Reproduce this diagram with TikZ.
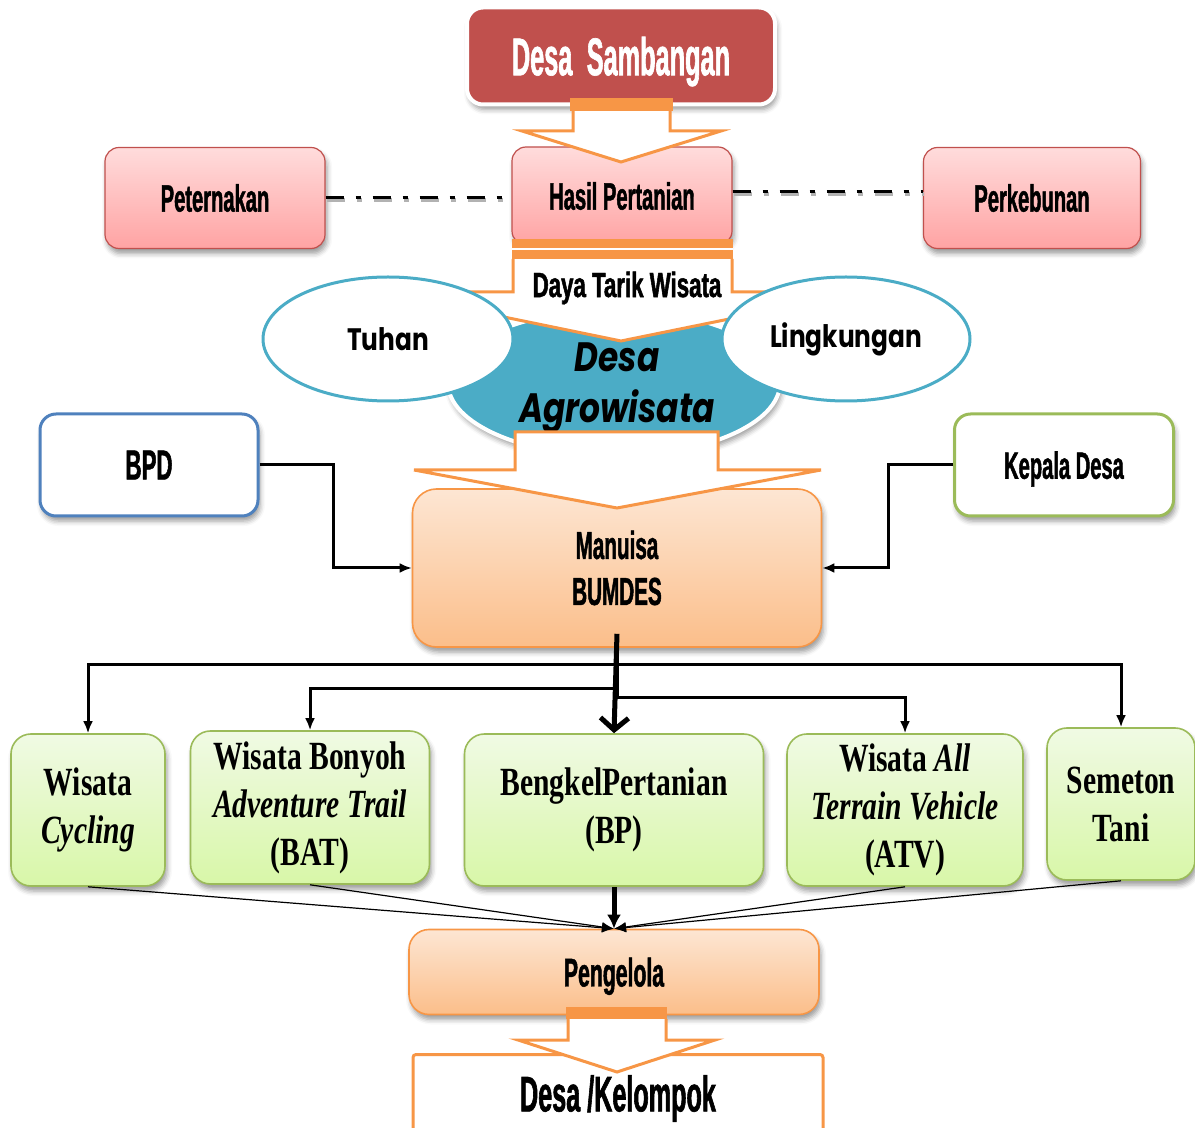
\documentclass[tikz,border=0pt]{standalone}
\usepackage{fontspec}
\usepackage{graphicx}
\usetikzlibrary{shapes.geometric,arrows.meta,shadows.blur,calc}
\newfontfamily\agency[FakeStretch=0.53,BoldFeatures={FakeBold=1.2}]{Liberation Sans}
\newfontfamily\twcen[FakeStretch=0.8]{Poppins}
\newfontfamily\tnr[FakeStretch=0.74]{Liberation Serif}
\definecolor{redbox}{HTML}{C0504D}
\definecolor{orng}{HTML}{F79646}
\definecolor{myteal}{HTML}{4BACC6}
\definecolor{blu}{HTML}{4F81BD}
\definecolor{grn}{HTML}{9BBB59}
\definecolor{pinkT}{HTML}{FFDCDC}
\definecolor{pinkB}{HTML}{FFA3A3}
\definecolor{orT}{HTML}{FDE6D3}
\definecolor{orB}{HTML}{FBBE8A}
\definecolor{grT}{HTML}{F0FAE4}
\definecolor{grB}{HTML}{D8F7A8}
\tikzset{
 shad/.style={blur shadow={shadow xshift=1pt,shadow yshift=-2.5pt,shadow blur radius=2.5pt,shadow opacity=40}},
 pinkbox/.style={rectangle,rounded corners=7pt,draw=redbox,line width=0.6pt,top color=pinkT,bottom color=pinkB,shad,minimum width=110pt,minimum height=50pt,inner sep=0pt,font=\agency\bfseries\fontsize{19}{23}\selectfont},
 orbox/.style={rectangle,rounded corners=10pt,draw=orng,line width=0.8pt,top color=orT,bottom color=orB,shad,inner sep=0pt,align=center,font=\agency\bfseries\fontsize{19.5}{23}\selectfont},
 grbox/.style={rectangle,rounded corners=10pt,draw=grn,line width=0.8pt,top color=grT,bottom color=grB,shad,inner sep=0pt,align=center,font=\tnr\bfseries\fontsize{20}{24}\selectfont},
 wbox/.style={rectangle,rounded corners=8pt,fill=white,line width=1.5pt,shad,minimum width=109pt,minimum height=51pt,inner sep=0pt,font=\agency\bfseries\fontsize{19.5}{23}\selectfont},
 oval/.style={ellipse,draw=myteal,fill=white,line width=1.5pt,minimum width=125pt,minimum height=62pt,inner sep=0pt,font=\twcen\bfseries\fontsize{15.5}{18}\selectfont},
 harrow/.style={draw=orng,fill=white,line width=1.5pt,line join=miter,miter limit=10},
 conn/.style={line width=1.5pt,-{Latex[length=6pt,width=5pt]}},
 thinconn/.style={line width=0.6pt,-{Latex[length=6pt,width=5pt]}},
 dd/.style={line width=1.5pt,dash pattern=on 9pt off 6pt on 2.5pt off 6pt},
 ddshadow/.style={dd,draw=black!30,line width=2.2pt},
}
\begin{document}
\begin{tikzpicture}[x=0.5pt,y=-0.5pt]
\useasboundingbox (0,0) rectangle (1195,1128);
\clip (0,0) rectangle (1195,1128);

% side boxes
\node[wbox,draw=blu] (bpd) at (149,465) {\fontsize{21}{24}\selectfont BPD};
\node[wbox,draw=grn,minimum width=109.5pt,text depth=0pt] (kd) at (1064,465) {\fontsize{19}{23}\selectfont Kepala Desa};

% top
\node[rectangle,rounded corners=8pt,fill=redbox,draw=white,line width=2pt,shad,minimum width=154pt,minimum height=48.5pt,text=white,text depth=0pt,font=\agency\bfseries\fontsize{26.5}{30}\selectfont] (ds) at (621,56) {\scalebox{0.9}[1]{Desa\hspace{8pt}Sambangan}\hspace{12pt}};

\node[pinkbox,minimum height=49pt] (hp) at (622,196) {Hasil Pertanian};
\node[pinkbox,minimum height=50.5pt] (pt) at (215,198) {Peternakan};
\node[pinkbox,minimum width=108.5pt,minimum height=50.5pt] (pk) at (1032,198) {Perkebunan};

\draw[ddshadow] ([xshift=0.5pt,yshift=-1pt]pt.east) -- ([xshift=0.5pt,yshift=-1pt]pt.east -| hp.west);
\draw[ddshadow] ([xshift=0.5pt,yshift=1pt]hp.east) -- ([xshift=0.5pt,yshift=1pt]hp.east -| pk.west);
\draw[dd] (pt.east) -- (pt.east -| hp.west);
\draw[dd] ([yshift=2pt]hp.east) -- ([yshift=2pt]hp.east -| pk.west);

% arrow 1
\path[harrow] (573,111) -- (573,131) -- (522,131) -- (621,162) -- (721,131) -- (670,131) -- (670,111);
\fill[orng] (570,98) rectangle (673,111);

% teal ellipse
\node[ellipse,fill=myteal,draw=white,line width=2pt,shad,minimum width=166pt,minimum height=73pt] (agro) at (614,383) {};

% arrow 2
\path[harrow] (513,259) -- (513,292) -- (382,292) -- (621,341) -- (862,292) -- (732,292) -- (732,259);
\fill[orng] (512,239) rectangle (733,259);
\draw[white,line width=0.8pt] (512,249) -- (733,249);
\node[font=\agency\bfseries\fontsize{17.5}{20}\selectfont] (dtw) at (627,288) {\scalebox{1.2}[1]{Daya Tarik Wisata}};

\node[oval] (tuhan) at (388,339) {Tuhan};
\node[oval,minimum width=124pt] (ling) at (846,339) {Lingkungan};

\node[align=center,font=\twcen\bfseries\itshape\fontsize{20.5}{25.5}\selectfont] (agrotxt) at (617,388) {Desa\\Agrowisata};

% BUMDES
\node[orbox,minimum width=204.5pt,minimum height=79pt,rounded corners=12pt] (bum) at (617,568) {Manuisa\\BUMDES};

% arrow 3
\filldraw[harrow] (515,432) -- (515,470) -- (414,470) -- (617,508) -- (821,470) -- (718,470) -- (718,432) -- cycle;

\coordinate (bk) at (333,465);
\coordinate (kk) at (888,465);
\draw[conn] (bpd.east) -- (bk) |- (bum.west);
\draw[conn] (kd.west) -- (kk) |- (bum.east);

% green boxes
\node[grbox,minimum width=77pt,minimum height=76pt] (cyc) at (88,810) {Wisata\\\textit{Cycling}};
\node[grbox,minimum width=119.5pt,minimum height=76.5pt] (bat) at (310,807.5) {Wisata Bonyoh\\\textit{Adventure Trail}\\(BAT)};
\node[grbox,minimum width=149.5pt,minimum height=76pt] (bp) at (614,810) {BengkelPertanian\\(BP)};
\node[grbox,minimum width=118pt,minimum height=76pt] (atv) at (905,810) {Wisata \textit{All}\\\textit{Terrain Vehicle}\\(ATV)};
\node[grbox,minimum width=74pt,minimum height=76pt] (st) at (1121,804) {Semeton\\Tani};

\coordinate (j1) at (617,664);
\coordinate (j2) at (617,688);
\coordinate (j3) at (617,697);
\draw[conn,-] ([yshift=7pt]bum.south) -- (j3);
\draw[conn] (j1) -| (cyc.north);
\draw[conn] (j1) -| (st.north);
\draw[conn] (j2) -| (bat.north);
\draw[conn] (j3) -| (atv.north);
\draw[line width=2.5pt,-{Straight Barb[length=6pt,width=14pt]}] ([yshift=7pt]bum.south) -- (bp.north);

% Pengelola
\node[orbox,minimum width=205pt,minimum height=42.5pt,text depth=0pt,font=\agency\bfseries\fontsize{20}{23}\selectfont] (pg) at (614,972) {Pengelola};
\draw[thinconn] (cyc.south) -- (pg.north);
\draw[thinconn] (bat.south) -- (pg.north);
\draw[thinconn] (atv.south) -- (pg.north);
\draw[thinconn] (st.south) -- (pg.north);
\draw[line width=2.5pt,-{Latex[length=7pt,width=7pt]}] (bp.south) -- (pg.north);

% Desa / Kelompok
\node[rectangle,rounded corners=1.5pt,draw=orng,fill=white,line width=1.5pt,minimum width=205pt,minimum height=44pt,anchor=north,inner sep=0pt,font=\agency\bfseries\fontsize{25}{28}\selectfont] (dk) at (618,1053) {\scalebox{0.95}[1]{Desa /Kelompok}\hspace{6pt}};

% arrow 4
\path[harrow] (568,1019) -- (568,1040) -- (518,1040) -- (617,1072) -- (715,1040) -- (666,1040) -- (666,1019);
\fill[orng] (566,1007) rectangle (667,1019);
\end{tikzpicture}
\end{document}
